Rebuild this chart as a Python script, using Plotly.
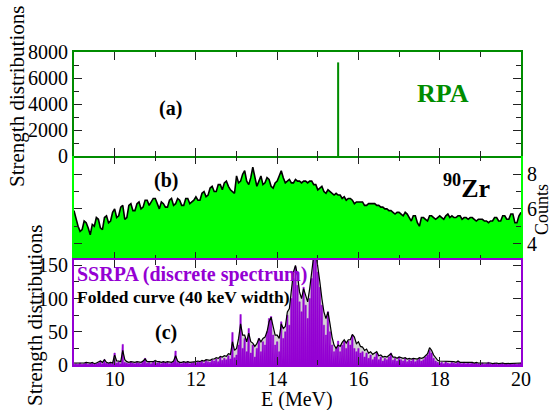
import numpy as np
import plotly.graph_objects as go

# ---------------- data ----------------
# (a) RPA
rpa_energy = [15.5]
rpa_strength = [7200]

# (b) experimental counts, E = 9.00 .. 20.00 step 0.05
counts_energy = [round(9.0 + 0.05 * i, 3) for i in range(221)]
counts = [
    5.9, 5.4, 5.0, 4.7, 4.8, 5.3, 5.2, 4.9, 4.5, 5.1, 5.0, 5.5, 5.4, 4.9, 4.8, 5.5, 5.6, 5.2, 5.3, 5.8,
    6.0, 5.5, 5.6, 6.1, 6.2, 5.4, 5.5, 6.2, 6.3, 5.9, 5.9, 6.3, 6.4, 6.0, 6.1, 6.5, 6.5, 6.2, 6.4, 6.6,
    6.6, 6.3, 6.0, 6.4, 6.3, 6.1, 6.1, 6.5, 6.6, 6.2, 6.3, 6.6, 6.5, 6.2, 6.2, 6.6, 6.6, 6.3, 6.4, 6.5,
    6.7, 6.5, 6.5, 6.9, 7.0, 6.7, 6.8, 7.2, 7.3, 7.0, 7.0, 7.4, 7.4, 7.1, 7.5, 7.6, 7.3, 7.1, 7.0, 6.9,
    7.9, 7.5, 7.6, 8.0, 8.2, 7.6, 7.4, 7.8, 8.4, 7.9, 7.3, 7.6, 7.9, 7.4, 7.5, 7.8, 7.7, 7.3, 7.2, 7.5,
    7.6, 7.9, 8.2, 7.8, 7.5, 7.6, 7.7, 7.5, 7.5, 7.7, 7.6, 7.6, 7.5, 7.6, 7.6, 7.5, 7.6, 7.6, 7.4, 7.4,
    7.1, 7.2, 7.3, 7.0, 6.9, 7.1, 7.0, 6.9, 6.8, 6.9, 6.8, 6.8, 6.6, 6.7, 6.5, 6.6, 6.6, 6.5, 6.3, 6.4,
    6.4, 6.4, 6.4, 6.2, 6.2, 6.3, 6.3, 6.3, 6.3, 6.2, 6.2, 6.1, 6.1, 6.0, 6.0, 5.9, 5.9, 5.8, 5.7, 5.8,
    5.8, 5.7, 5.6, 5.8, 5.7, 5.5, 5.3, 5.6, 5.6, 5.2, 5.0, 5.5, 5.5, 5.4, 5.3, 5.6, 5.6, 5.5, 5.4, 5.5,
    5.6, 5.5, 5.4, 5.6, 5.7, 5.5, 5.6, 5.5, 5.5, 5.6, 5.6, 5.4, 5.5, 5.5, 5.4, 5.5, 5.5, 5.4, 5.3, 5.4,
    5.4, 5.4, 5.3, 5.3, 5.2, 5.3, 5.3, 5.5, 5.5, 5.3, 5.3, 5.6, 5.6, 5.4, 5.4, 5.7, 5.7, 5.2, 5.2, 5.6,
    5.8,
]

# (c) folded curve, E = 9.00 .. 20.00 step 0.05
folded_energy = [round(9.0 + 0.05 * i, 3) for i in range(221)]
folded = [
    3, 3, 2, 3, 2, 3, 4, 3, 3, 4, 2, 3, 4, 6, 4, 8, 4, 3, 4, 3,
    15, 6, 6, 5, 22, 8, 5, 4, 5, 4, 4, 5, 4, 4, 6, 9, 5, 5, 4, 5,
    7, 5, 5, 4, 5, 4, 5, 4, 4, 6, 14, 6, 4, 4, 5, 4, 5, 4, 4, 5,
    5, 6, 5, 7, 6, 8, 7, 7, 9, 9, 11, 10, 13, 12, 14, 13, 17, 16, 35, 22,
    25, 40, 62, 45, 45, 35, 48, 35, 33, 28, 32, 40, 35, 40, 42, 50, 65, 72, 58, 45,
    45, 40, 62, 55, 58, 80, 85, 110, 140, 150, 135, 110, 100, 115, 105, 95, 115, 140, 165, 170,
    150, 125, 100, 80, 70, 80, 62, 42, 30, 25, 30, 28, 34, 38, 33, 38, 38, 46, 42, 32,
    35, 28, 27, 22, 24, 18, 20, 16, 18, 20, 14, 15, 12, 13, 12, 14, 17, 12, 12, 10,
    12, 11, 10, 11, 9, 10, 9, 10, 9, 9, 11, 10, 11, 14, 17, 26, 22, 15, 10, 7,
    6, 6, 5, 6, 5, 5, 5, 5, 4, 6, 4, 4, 5, 4, 4, 4, 4, 3, 4, 3,
    3, 4, 3, 3, 4, 3, 2, 3, 3, 2, 3, 3, 2, 2, 2, 2, 2, 2, 2, 2,
    3,
]

# (c) discrete SSRPA spectrum, E = 9.00 .. 20.00 step 0.05
discrete_energy = [round(9.0 + 0.05 * i, 3) for i in range(221)]
discrete = [
    1, 2, 1, 3, 1, 2, 4, 1, 2, 3, 1, 2, 3, 6, 2, 8, 3, 2, 4, 2,
    18, 3, 5, 2, 31, 4, 3, 2, 5, 3, 2, 4, 3, 2, 6, 10, 3, 4, 2, 5,
    6, 3, 4, 2, 5, 3, 4, 2, 3, 5, 21, 4, 3, 2, 4, 3, 5, 2, 3, 4,
    3, 5, 4, 6, 3, 7, 5, 4, 8, 6, 9, 5, 12, 7, 10, 8, 14, 9, 49, 11,
    15, 30, 76, 25, 40, 20, 55, 18, 30, 12, 25, 40, 20, 35, 30, 50, 70, 73, 45, 30,
    35, 20, 65, 40, 50, 75, 60, 100, 130, 148, 120, 95, 80, 117, 90, 70, 100, 130, 160, 160,
    140, 117, 90, 60, 45, 80, 50, 30, 20, 25, 36, 20, 30, 36, 25, 36, 30, 45, 25, 20,
    25, 18, 20, 12, 18, 10, 15, 8, 12, 18, 8, 12, 6, 10, 8, 12, 18, 7, 10, 6,
    12, 8, 6, 10, 5, 8, 6, 9, 5, 7, 10, 6, 8, 12, 15, 22, 18, 10, 6, 4,
    3, 4, 2, 5, 3, 2, 4, 3, 2, 5, 3, 2, 4, 2, 3, 2, 4, 2, 3, 2,
    2, 3, 1, 2, 4, 2, 1, 3, 2, 1, 2, 3, 1, 2, 1, 2, 1, 2, 1, 2,
    3,
]

x_ticks = [10, 12, 14, 16, 18, 20]

# ---------------- style ----------------
FONT = "Liberation Serif, Times New Roman, serif"
GREEN = "#008c00"
LIME = "#00ff00"
PURPLE = "#9400d3"
W, H = 553, 410
ML, MR, MT, MB = 74, 32, 52, 45
PW, PH = W - ML - MR, H - MT - MB
SPIKE_HALF = 0.017  # half width of discrete lines (MeV)


def px(x):
    return (x - ML) / PW


def py(y):
    return (H - MB - y) / PH


dom_a = [py(156), 1.0]
dom_b = [py(260), py(156)]
dom_c = [0.0, py(260)]

# outline of the discrete lines built from the data
spike_x, spike_y = [], []
for e, v in zip(discrete_energy, discrete):
    spike_x += [e - SPIKE_HALF, e - SPIKE_HALF, e + SPIKE_HALF, e + SPIKE_HALF]
    spike_y += [0, v, v, 0]

fig = go.Figure()

# (a)
fig.add_trace(go.Bar(x=rpa_energy, y=rpa_strength, width=0.05,
                     marker=dict(color=GREEN, line=dict(width=0)),
                     xaxis="x", yaxis="y", showlegend=False))

# (b)
fig.add_trace(go.Scatter(x=counts_energy, y=counts, mode="lines",
                         fill="tozeroy", fillcolor=LIME,
                         line=dict(color="black", width=1.6),
                         xaxis="x2", yaxis="y2", showlegend=False))

# (c)
fig.add_trace(go.Scatter(x=folded_energy, y=folded, mode="lines",
                         fill="tozeroy", fillcolor="#d3d3d3",
                         line=dict(color="rgba(0,0,0,0)", width=0),
                         xaxis="x3", yaxis="y3", showlegend=False))
fig.add_trace(go.Scatter(x=spike_x, y=spike_y, mode="lines",
                         fill="tozeroy", fillcolor=PURPLE,
                         line=dict(color=PURPLE, width=0.5),
                         xaxis="x3", yaxis="y3", showlegend=False))
fig.add_trace(go.Scatter(x=folded_energy, y=folded, mode="lines",
                         line=dict(color="black", width=1.2),
                         xaxis="x3", yaxis="y3", showlegend=False))

tickfont = dict(family=FONT, size=20, color="black")
common_x = dict(range=[9, 20], ticks="inside", ticklen=8, tickwidth=1,
                tickcolor="#222", dtick=2, tick0=10,
                minor=dict(dtick=1, ticks="inside", ticklen=5, tickcolor="#222"),
                mirror="ticks", showgrid=False, zeroline=False,
                tickfont=tickfont)

fig.update_layout(
    width=W, height=H,
    margin=dict(l=ML, r=MR, t=MT, b=MB),
    paper_bgcolor="white", plot_bgcolor="white",
    font=dict(family=FONT, color="black"),
    xaxis=dict(common_x, domain=[0, 1], anchor="y", showticklabels=False,
               showline=True, linecolor=GREEN, linewidth=2),
    yaxis=dict(domain=dom_a, anchor="x", range=[0, 8000], dtick=2000,
               ticks="inside", ticklen=8, tickcolor="#222",
               minor=dict(dtick=1000, ticks="inside", ticklen=5, tickcolor="#222"),
               showline=True, linecolor=GREEN, linewidth=2, mirror="ticks",
               showgrid=False, zeroline=False, tickfont=tickfont),
    xaxis2=dict(common_x, domain=[0, 1], anchor="y2", showticklabels=False,
                showline=False),
    yaxis2=dict(domain=dom_b, anchor="x2", range=[3.05, 9.05], side="right",
                tickvals=[4, 6, 8], ticks="inside", ticklen=8, tickcolor="#222",
                minor=dict(dtick=1, ticks="inside", ticklen=5, tickcolor="#222"),
                showline=True, linecolor=LIME, linewidth=2, mirror="ticks",
                showgrid=False, zeroline=False, tickfont=tickfont),
    xaxis3=dict(common_x, domain=[0, 1], anchor="y3", showticklabels=True,
                tickvals=x_ticks, ticklabelstandoff=-5,
                showline=True, linecolor=PURPLE, linewidth=2),
    yaxis3=dict(domain=dom_c, anchor="x3", range=[0, 158], dtick=50,
                ticks="inside", ticklen=8, tickcolor="#222",
                minor=dict(dtick=25, ticks="inside", ticklen=5, tickcolor="#222"),
                showline=True, linecolor=PURPLE, linewidth=2, mirror="ticks",
                showgrid=False, zeroline=False, tickfont=tickfont),
)


def ann(text, x, y, size, color="black", xanchor="center", angle=0, bold=True):
    t = f"<b>{text}</b>" if bold else text
    fig.add_annotation(text=t, x=px(x), y=py(y), xref="paper", yref="paper",
                       xanchor=xanchor, yanchor="middle", showarrow=False,
                       textangle=angle,
                       font=dict(family=FONT, size=size, color=color))


ann("(a)", 170, 108, 20)
ann("RPA", 443, 93, 26, color=GREEN)
ann("(b)", 166, 180, 20)
ann("<sup>90</sup>Zr", 466, 186, 26)
ann("SSRPA (discrete spectrum)", 75, 274, 20, color=PURPLE, xanchor="left")
ann("Folded curve (40 keV width)", 75, 297, 17.5, xanchor="left")
ann("(c)", 166, 332, 20)
ann("E (MeV)", 297, 399, 20, bold=False)
ann("Strength distributions", 17, 97, 21, angle=-90, bold=False)
ann("Strength distributions", 35, 316, 21, angle=-90, bold=False)
ann("Counts", 542, 210, 18, angle=-90, bold=False)

fig.write_html("out.html", config={"displayModeBar": False},
               post_script="document.body.style.margin='0px';")
